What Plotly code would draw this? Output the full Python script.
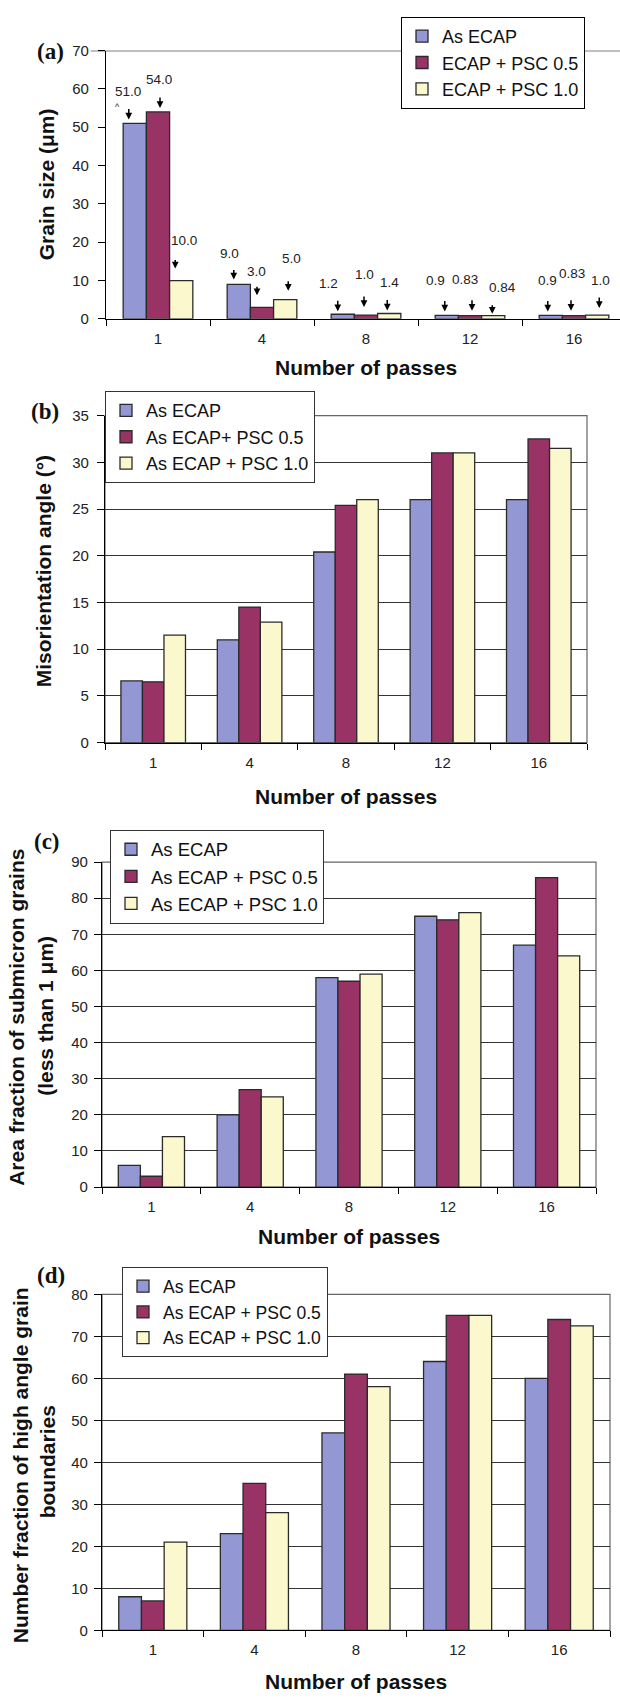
import plotly.graph_objects as go

# ---------------- data ----------------
passes = ["1", "4", "8", "12", "16"]

series_a = ["As ECAP", "ECAP + PSC 0.5", "ECAP + PSC 1.0"]
series_b = ["As ECAP", "As ECAP+ PSC 0.5", "As ECAP + PSC 1.0"]
series_cd = ["As ECAP", "As ECAP + PSC 0.5", "As ECAP + PSC 1.0"]

grain_as = [51.0, 9.0, 1.2, 0.9, 0.9]
grain_p05 = [54.0, 3.0, 1.0, 0.83, 0.83]
grain_p10 = [10.0, 5.0, 1.4, 0.84, 1.0]
grain_lbl_as = ["51.0", "9.0", "1.2", "0.9", "0.9"]
grain_lbl_p05 = ["54.0", "3.0", "1.0", "0.83", "0.83"]
grain_lbl_p10 = ["10.0", "5.0", "1.4", "0.84", "1.0"]

mis_as = [6.6, 11.0, 20.4, 26.0, 26.0]
mis_p05 = [6.5, 14.5, 25.4, 31.0, 32.5]
mis_p10 = [11.5, 12.9, 26.0, 31.0, 31.5]

area_as = [6, 20, 58, 75, 67]
area_p05 = [3, 27, 57, 74, 85.7]
area_p10 = [14, 25, 59, 76, 64]

hagb_as = [8, 23, 47, 64, 60]
hagb_p05 = [7, 35, 61, 75, 74]
hagb_p10 = [21, 28, 58, 75, 72.5]

# ---------------- style ----------------
W, H = 620, 1700
colors = ["#9397D4", "#993366", "#FAF8CC"]
FONT = "Liberation Sans, Arial, sans-serif"
SERIF = "Liberation Serif, Times New Roman, serif"
BARGAP = 0.33


def px(p):
    return p / W


def py(p):
    return 1 - p / H


fig = go.Figure()

panels = [
    dict(k="", names=series_a, data=[grain_as, grain_p05, grain_p10],
         xd=(106, 620), yd=(42, 313), yr=[0, 70], dt=10,
         xr=[-0.5, 4.5 - 6 / 104], grid=False, box=False),
    dict(k="2", names=series_b, data=[mis_as, mis_p05, mis_p10],
         xd=(105, 587), yd=(410.7, 741), yr=[0, 35], dt=5,
         xr=[-0.5, 4.5], grid=True, box=True),
    dict(k="3", names=series_cd, data=[area_as, area_p05, area_p10],
         xd=(102, 596), yd=(861.7, 1190), yr=[0, 90], dt=10,
         xr=[-0.5, 4.5], grid=True, box=True),
    dict(k="4", names=series_cd, data=[hagb_as, hagb_p05, hagb_p10],
         xd=(102, 610), yd=(1298.3, 1637.7), yr=[0, 80], dt=10,
         xr=[-0.5, 4.5], grid=True, box=True),
]

legend_cfg = [
    dict(x=401, y=8, size=18, border="#000", gap=3),
    dict(x=105, y=386, size=18, border="#333", gap=3),
    dict(x=110, y=829, size=18.5, border="#333", gap=4),
    dict(x=122, y=1271, size=17.5, border="#333", gap=2.75),
]

ytick_standoff = [6, 5, 3, 3]

for pi, p in enumerate(panels):
    k = p["k"]
    legname = "legend" + k
    for si in range(3):
        fig.add_trace(go.Bar(
            x=passes, y=p["data"][si], name=p["names"][si],
            marker=dict(color=colors[si], line=dict(color="#2a2a2a", width=1.3)),
            xaxis="x" + k, yaxis="y" + k, legend=legname,
            legendgroup=f"p{pi}s{si}", hoverinfo="x+y+name",
        ))
    x0, x1 = p["xd"]
    yt, yb = p["yd"]
    fig.layout["xaxis" + k] = dict(
        domain=[px(x0), px(x1)], anchor="y" + k, type="category",
        range=p["xr"], showline=True, linecolor="#000", linewidth=1.3,
        ticks="outside", ticklen=6, tickcolor="#000", tickwidth=1,
        tickson="boundaries", showgrid=False, zeroline=False,
        tickfont=dict(family=FONT, size=15, color="#222"),
        ticklabelstandoff=6, fixedrange=True,
    )
    fig.layout["yaxis" + k] = dict(
        domain=[py(yb), py(yt)], anchor="x" + k, range=p["yr"],
        dtick=p["dt"], tick0=0, showline=True, linecolor="#000", linewidth=1.3,
        ticks="outside", ticklen=7, tickcolor="#000", tickwidth=1,
        showgrid=p["grid"], gridcolor="#333", gridwidth=1, zeroline=False,
        tickfont=dict(family=FONT, size=15, color="#222"),
        ticklabelstandoff=ytick_standoff[pi], fixedrange=True,
    )
    lc = legend_cfg[pi]
    fig.layout[legname] = dict(
        x=px(lc["x"]), y=py(lc["y"]), xanchor="left", yanchor="top",
        bgcolor="white", bordercolor=lc["border"], borderwidth=1,
        font=dict(family=FONT, size=lc["size"], color="#111"),
        tracegroupgap=lc["gap"], traceorder="normal",
    )
    if p["box"]:
        fig.add_shape(type="rect", xref=f"x{k} domain", yref=f"y{k} domain",
                      x0=0, x1=1, y0=0, y1=1, line=dict(color="#666", width=1.2),
                      layer="below")

# panel (a): top gray line at 70
fig.add_shape(type="line", xref="x domain", yref="y", x0=-0.03, x1=1, y0=70, y1=70,
              line=dict(color="#808080", width=1.6), layer="below")

# panel (a) value labels with arrows
bw = (1 - BARGAP) / 3
# per-label layout offsets in pixels: (text dx, text above bar, arrow dx, arrow gap, arrow len)
label_offsets = [
    [(-7, 32, -6, 4, 12), (1, 32, 2, 4, 12), (3, 40, -6, 12, 10)],
    [(-9, 31, -5, 5, 11), (-6, 36, -5, 12, 10), (6, 41, 3, 9, 11)],
    [(-14, 31, -5, 3, 12), (-2, 41, -2, 8, 12), (0, 31, -2, 3, 12)],
    [(-11, 35, -2, 4, 12), (-5, 36, 2, 5, 12), (9, 28, -1, 2, 10)],
    [(-3, 35, -3, 4, 12), (-2, 42, -3, 5, 12), (3, 35, 2, 7, 12)],
]
grain_vals = [grain_as, grain_p05, grain_p10]
grain_lbls = [grain_lbl_as, grain_lbl_p05, grain_lbl_p10]
for gi in range(len(passes)):
    for si in range(3):
        xc = gi + (si - 1) * bw
        v = grain_vals[si][gi]
        tdx, tup, adx, agap, alen = label_offsets[gi][si]
        fig.add_annotation(x=xc, y=v, xref="x", yref="y", text=grain_lbls[si][gi],
                           showarrow=False, xshift=tdx, yshift=tup,
                           xanchor="center", yanchor="middle",
                           font=dict(family=FONT, size=13.5, color="#222"))
        fig.add_annotation(x=xc, y=v, xref="x", yref="y", text="",
                           showarrow=True, ax=0, ay=-(agap + alen), standoff=agap,
                           arrowhead=2, arrowsize=0.9, arrowwidth=1.5,
                           arrowcolor="#000", xshift=adx)
fig.add_annotation(x=px(117), y=py(99), xref="paper", yref="paper", text="^",
                   xanchor="center", yanchor="middle", showarrow=False,
                   font=dict(family=FONT, size=9, color="#222"))

# axis titles and panel letters
TITLE = dict(family=FONT, size=21, color="#111")


def bold(t):
    return f"<b>{t}</b>"


xtitles = [(366, 362), (346, 795), (349, 1240), (356, 1689)]
for (xc, yc) in xtitles:
    fig.add_annotation(x=px(xc), y=py(yc), xref="paper", yref="paper",
                       text=bold("Number of passes"), showarrow=False, font=TITLE,
                       xanchor="center", yanchor="middle")

ytitles = [
    ("Grain size (μm)", 46, 177),
    ("Misorientation angle (°)", 43, 568),
    ("Area fraction of submicron grains", 17, 1019),
    ("(less than 1 μm)", 46, 1017),
    ("Number fraction of high angle grain", 20, 1471),
    ("boundaries", 47, 1468),
]
for (t, xc, yc) in ytitles:
    fig.add_annotation(x=px(xc), y=py(yc), xref="paper", yref="paper", text=bold(t),
                       textangle=-90, showarrow=False, font=TITLE,
                       xanchor="center", yanchor="middle")

letters = [("(a)", 50, 43), ("(b)", 45, 407), ("(c)", 47, 841), ("(d)", 51, 1279)]
for (t, xc, yc) in letters:
    fig.add_annotation(x=px(xc), y=py(yc), xref="paper", yref="paper", text=bold(t),
                       showarrow=False, xanchor="center", yanchor="middle",
                       font=dict(family=SERIF, size=23, color="#111"))

fig.update_layout(
    width=W, height=H, margin=dict(l=0, r=0, t=0, b=0),
    paper_bgcolor="white", plot_bgcolor="white",
    barmode="group", bargap=BARGAP, bargroupgap=0,
    font=dict(family=FONT),
)

fig.write_html("out.html")
